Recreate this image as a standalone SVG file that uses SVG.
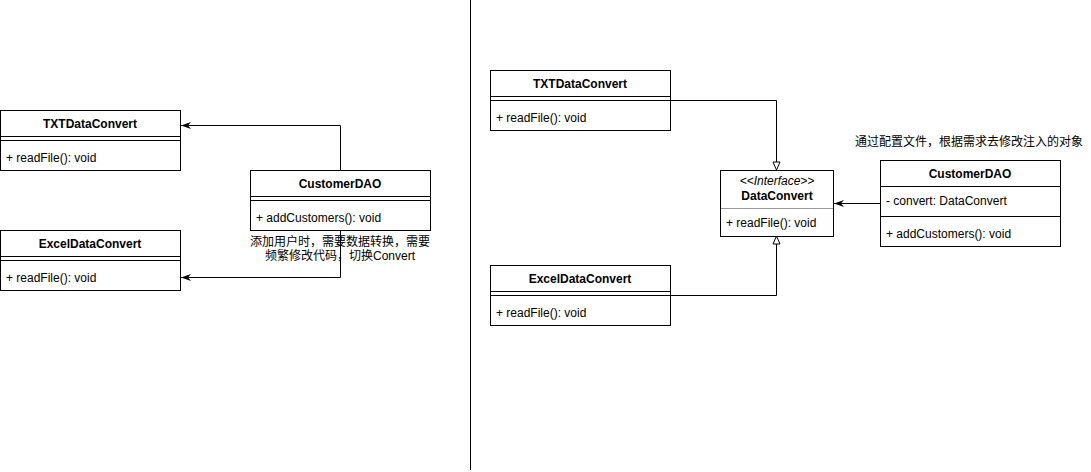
<svg xmlns="http://www.w3.org/2000/svg" width="1091" height="472" viewBox="0 0 1091 472">
<style>
.box{fill:#fff;stroke:#000;stroke-width:1}
.sep{stroke:#000;stroke-width:1;fill:none}
.gsep{stroke:#999;stroke-width:1;fill:none}
.conn{stroke:#000;stroke-width:1;fill:none}
text{font-family:"Liberation Sans",Arial,"Noto Sans CJK SC",sans-serif;font-size:12px;fill:#000}
.t{font-weight:bold;text-anchor:middle}
.m{text-anchor:start}
.c{text-anchor:middle}
.i{font-style:italic;text-anchor:middle}
</style>
<defs>
<marker id="classic" viewBox="0 0 10 8" markerWidth="10" markerHeight="8" refX="10" refY="4" orient="auto" markerUnits="userSpaceOnUse">
<path d="M0,0.5 L10,4 L0,7.5 L3,4 Z" fill="#000"/>
</marker>
<marker id="tri" viewBox="-1 -1 10 10" markerWidth="10" markerHeight="10" refX="8" refY="4" orient="auto" markerUnits="userSpaceOnUse">
<path d="M0,0.5 L8,4 L0,7.5 Z" fill="#fff" stroke="#000" stroke-width="1"/>
</marker>
</defs>
<rect width="1091" height="472" fill="#fff"/>
<line x1="470.5" y1="0" x2="470.5" y2="470" stroke="#000" stroke-width="1"/>
<g id="connectors">
<path class="conn" d="M340.5,170 L340.5,125.5 L181,125.5" marker-end="url(#classic)"/>
<path class="conn" d="M340.5,230 L340.5,277.5 L181,277.5" marker-end="url(#classic)"/>
<path class="conn" d="M670,100.5 L776.5,100.5 L776.5,170" marker-end="url(#tri)"/>
<path class="conn" d="M670,295.5 L776.5,295.5 L776.5,236" marker-end="url(#tri)"/>
<path class="conn" d="M880,203.5 L834,203.5" marker-end="url(#classic)"/>
</g>
<g id="left-txt">
<rect class="box" x="0.5" y="110.5" width="180" height="60"/>
<line class="sep" x1="0.5" y1="136.5" x2="180.5" y2="136.5"/>
<line class="sep" x1="0.5" y1="140.5" x2="180.5" y2="140.5"/>
<text class="t" x="90" y="128">TXTDataConvert</text>
<text class="m" x="6" y="162">+ readFile(): void</text>
</g>
<g id="left-customer">
<rect class="box" x="250.5" y="170.5" width="180" height="60"/>
<line class="sep" x1="250.5" y1="196.5" x2="430.5" y2="196.5"/>
<line class="sep" x1="250.5" y1="200.5" x2="430.5" y2="200.5"/>
<text class="t" x="340" y="188">CustomerDAO</text>
<text class="m" x="256" y="222">+ addCustomers(): void</text>
</g>
<g id="left-excel">
<rect class="box" x="0.5" y="230.5" width="180" height="60"/>
<line class="sep" x1="0.5" y1="256.5" x2="180.5" y2="256.5"/>
<line class="sep" x1="0.5" y1="260.5" x2="180.5" y2="260.5"/>
<text class="t" x="90" y="248">ExcelDataConvert</text>
<text class="m" x="6" y="282">+ readFile(): void</text>
</g>
<g id="left-note">
<text class="c" x="340" y="246">添加用户时，需要数据转换，需要</text>
<text class="c" x="340" y="260">频繁修改代码，切换Convert</text>
</g>
<g id="right-txt">
<rect class="box" x="490.5" y="70.5" width="180" height="60"/>
<line class="sep" x1="490.5" y1="96.5" x2="670.5" y2="96.5"/>
<line class="sep" x1="490.5" y1="100.5" x2="670.5" y2="100.5"/>
<text class="t" x="580" y="88">TXTDataConvert</text>
<text class="m" x="496" y="122">+ readFile(): void</text>
</g>
<g id="right-excel">
<rect class="box" x="490.5" y="265.5" width="180" height="60"/>
<line class="sep" x1="490.5" y1="291.5" x2="670.5" y2="291.5"/>
<line class="sep" x1="490.5" y1="295.5" x2="670.5" y2="295.5"/>
<text class="t" x="580" y="283">ExcelDataConvert</text>
<text class="m" x="496" y="317">+ readFile(): void</text>
</g>
<g id="interface">
<rect class="box" x="720.5" y="170.5" width="113" height="66"/>
<line class="gsep" x1="721" y1="208.5" x2="833" y2="208.5"/>
<text class="i" x="777" y="185">&lt;&lt;Interface&gt;&gt;</text>
<text class="t" x="777" y="200">DataConvert</text>
<text class="m" x="726" y="227">+ readFile(): void</text>
</g>
<g id="right-customer">
<rect class="box" x="880.5" y="160.5" width="180" height="86"/>
<line class="sep" x1="880.5" y1="186.5" x2="1060.5" y2="186.5"/>
<line class="sep" x1="880.5" y1="216.5" x2="1060.5" y2="216.5"/>
<text class="t" x="970" y="178">CustomerDAO</text>
<text class="m" x="886" y="205">- convert: DataConvert</text>
<text class="m" x="886" y="238">+ addCustomers(): void</text>
</g>
<g id="right-note">
<text class="c" x="969" y="146">通过配置文件，根据需求去修改注入的对象</text>
</g>
</svg>
